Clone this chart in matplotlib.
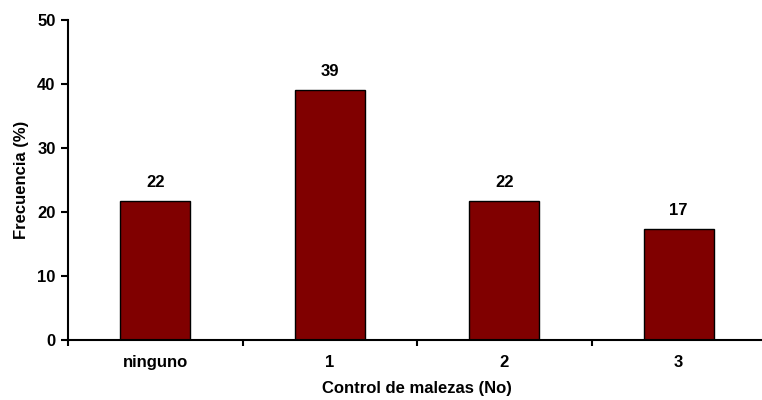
import matplotlib
matplotlib.use("Agg")
import matplotlib.pyplot as plt
import numpy as np

categories = ["ninguno", "1", "2", "3"]
frecuencia = [21.7, 39.1, 21.7, 17.4]
etiquetas = ["22", "39", "22", "17"]
y_ticks = [0, 10, 20, 30, 40, 50]

plt.rcParams["font.family"] = ["Liberation Sans", "DejaVu Sans"]
plt.rcParams["font.weight"] = "bold"
FS = 12

fig = plt.figure(figsize=(7.62, 4.0), dpi=100)
ax = fig.add_axes([68 / 762, 0.15, 698 / 762, 0.80])

x = np.arange(len(categories))
bars = ax.bar(x, frecuencia, width=0.4, color="#800000", edgecolor="black", linewidth=1.0)

for b, lab in zip(bars, etiquetas):
    ax.annotate(lab, (b.get_x() + b.get_width() / 2, b.get_height()),
                xytext=(0, 8), textcoords="offset points",
                ha="center", va="bottom", fontsize=FS, fontweight="bold")

ax.set_xlim(-0.5, len(categories) - 0.5)
ax.set_ylim(0, 50)
ax.set_yticks(y_ticks)
ax.set_xticks(x)
ax.set_xticklabels(categories, fontsize=FS, fontweight="bold")
ax.set_xticks(np.arange(-0.5, len(categories), 1.0), minor=True)
ax.tick_params(axis="x", which="major", length=0, pad=11)
ax.tick_params(axis="x", which="minor", length=4, width=1.5, direction="out")
ax.tick_params(axis="y", length=5, width=1.5, direction="out", labelsize=FS, pad=4)
for t in ax.get_yticklabels():
    t.set_fontweight("bold")

for s in ["top", "right"]:
    ax.spines[s].set_visible(False)
for s in ["left", "bottom"]:
    ax.spines[s].set_linewidth(1.5)

ax.set_ylabel("Frecuencia (%)", fontsize=FS, fontweight="bold", labelpad=6)
ax.set_xlabel("Control de malezas (No)", fontsize=FS, fontweight="bold", labelpad=8)

fig.savefig("out.png", dpi=100)
